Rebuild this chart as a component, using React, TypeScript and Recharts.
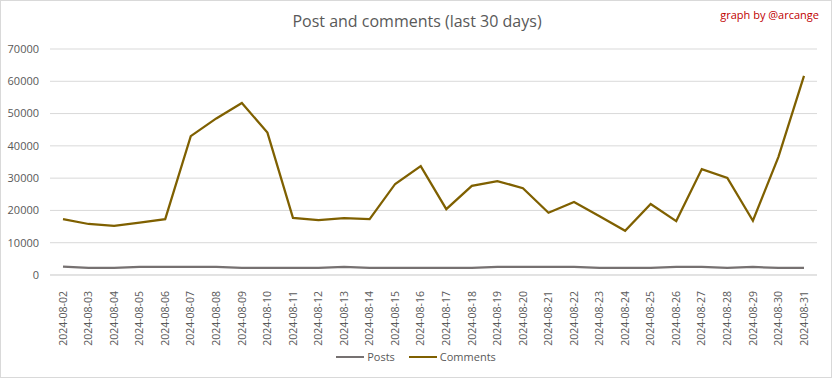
import React from 'react';
import { LineChart, Line, XAxis, YAxis, CartesianGrid, Legend } from 'recharts';

const dates = [
  '2024-08-02', '2024-08-03', '2024-08-04', '2024-08-05', '2024-08-06',
  '2024-08-07', '2024-08-08', '2024-08-09', '2024-08-10', '2024-08-11',
  '2024-08-12', '2024-08-13', '2024-08-14', '2024-08-15', '2024-08-16',
  '2024-08-17', '2024-08-18', '2024-08-19', '2024-08-20', '2024-08-21',
  '2024-08-22', '2024-08-23', '2024-08-24', '2024-08-25', '2024-08-26',
  '2024-08-27', '2024-08-28', '2024-08-29', '2024-08-30', '2024-08-31',
];

const posts = [
  2600, 2200, 2200, 2500, 2500, 2500, 2500, 2200, 2200, 2200,
  2200, 2500, 2200, 2200, 2200, 2200, 2200, 2500, 2500, 2500,
  2500, 2200, 2200, 2200, 2500, 2500, 2200, 2500, 2200, 2200,
];

const comments = [
  17300, 15800, 15200, 16200, 17300, 43000, 48500, 53300, 44100, 17700,
  17000, 17600, 17300, 28200, 33700, 20400, 27600, 29100, 26900, 19300,
  22600, 18200, 13700, 22000, 16700, 32800, 30100, 16800, 36600, 61700,
];

const yTicks = [0, 10000, 20000, 30000, 40000, 50000, 60000, 70000];

const seriesList = [
  { key: 'Posts', color: '#767171' },
  { key: 'Comments', color: '#7f6000' },
];

const data = dates.map((d, i) => ({ date: d, Posts: posts[i], Comments: comments[i] }));

const FONT = '"Open Sans", sans-serif';

const DateTick = (props: any) => {
  const { x, y, payload } = props;
  return (
    <text
      x={0}
      y={0}
      transform={`translate(${x},${y + 8}) rotate(-90)`}
      textAnchor="end"
      dy="0.35em"
      fill="#595959"
      fontSize={10.5}
      fontFamily={FONT}
    >
      {payload.value}
    </text>
  );
};

const LegendContent = () => (
  <div style={{ display: 'flex', justifyContent: 'center', gap: 14, fontSize: 11, color: '#595959' }}>
    {seriesList.map((s) => (
      <div key={s.key} style={{ display: 'flex', alignItems: 'center' }}>
        <span style={{ display: 'inline-block', width: 28, height: 2, background: s.color, marginRight: 3 }} />
        <span>{s.key}</span>
      </div>
    ))}
  </div>
);

export default function App() {
  return (
    <div
      style={{
        position: 'absolute',
        left: 0,
        top: 0,
        width: 832,
        height: 378,
        boxSizing: 'border-box',
        border: '1px solid #d9d9d9',
        background: '#fff',
        fontFamily: FONT,
      }}
    >
      <div
        style={{
          position: 'absolute',
          top: 9,
          left: 0,
          width: 832,
          textAlign: 'center',
          fontSize: 16,
          color: '#595959',
        }}
      >
        Post and comments (last 30 days)
      </div>
      <div
        style={{
          position: 'absolute',
          top: 6,
          right: 12,
          fontSize: 11,
          color: '#c00000',
        }}
      >
        graph by @arcange
      </div>
      <div style={{ position: 'absolute', left: -1, top: -1 }}>
        <LineChart
          width={832}
          height={378}
          data={data}
          margin={{ top: 49, right: 15, left: 0, bottom: 8 }}
        >
          <CartesianGrid vertical={false} stroke="#d9d9d9" />
          <XAxis
            dataKey="date"
            interval={0}
            height={95}
            padding={{ left: 13, right: 13 }}
            axisLine={{ stroke: '#d9d9d9' }}
            tickLine={false}
            tick={<DateTick />}
          />
          <YAxis
            domain={[0, 70000]}
            ticks={yTicks}
            width={50}
            axisLine={false}
            tickLine={false}
            tickSize={0}
            tickMargin={11}
            tick={{ fill: '#595959', fontSize: 11, fontFamily: FONT }}
          />
          <Legend
            verticalAlign="middle"
            align="center"
            content={<LegendContent />}
            wrapperStyle={{ top: 349, left: 0, width: 832, fontFamily: FONT }}
          />
          {seriesList.map((s) => (
            <Line
              key={s.key}
              type="linear"
              dataKey={s.key}
              stroke={s.color}
              strokeWidth={2.25}
              dot={false}
              isAnimationActive={false}
            />
          ))}
        </LineChart>
      </div>
    </div>
  );
}
